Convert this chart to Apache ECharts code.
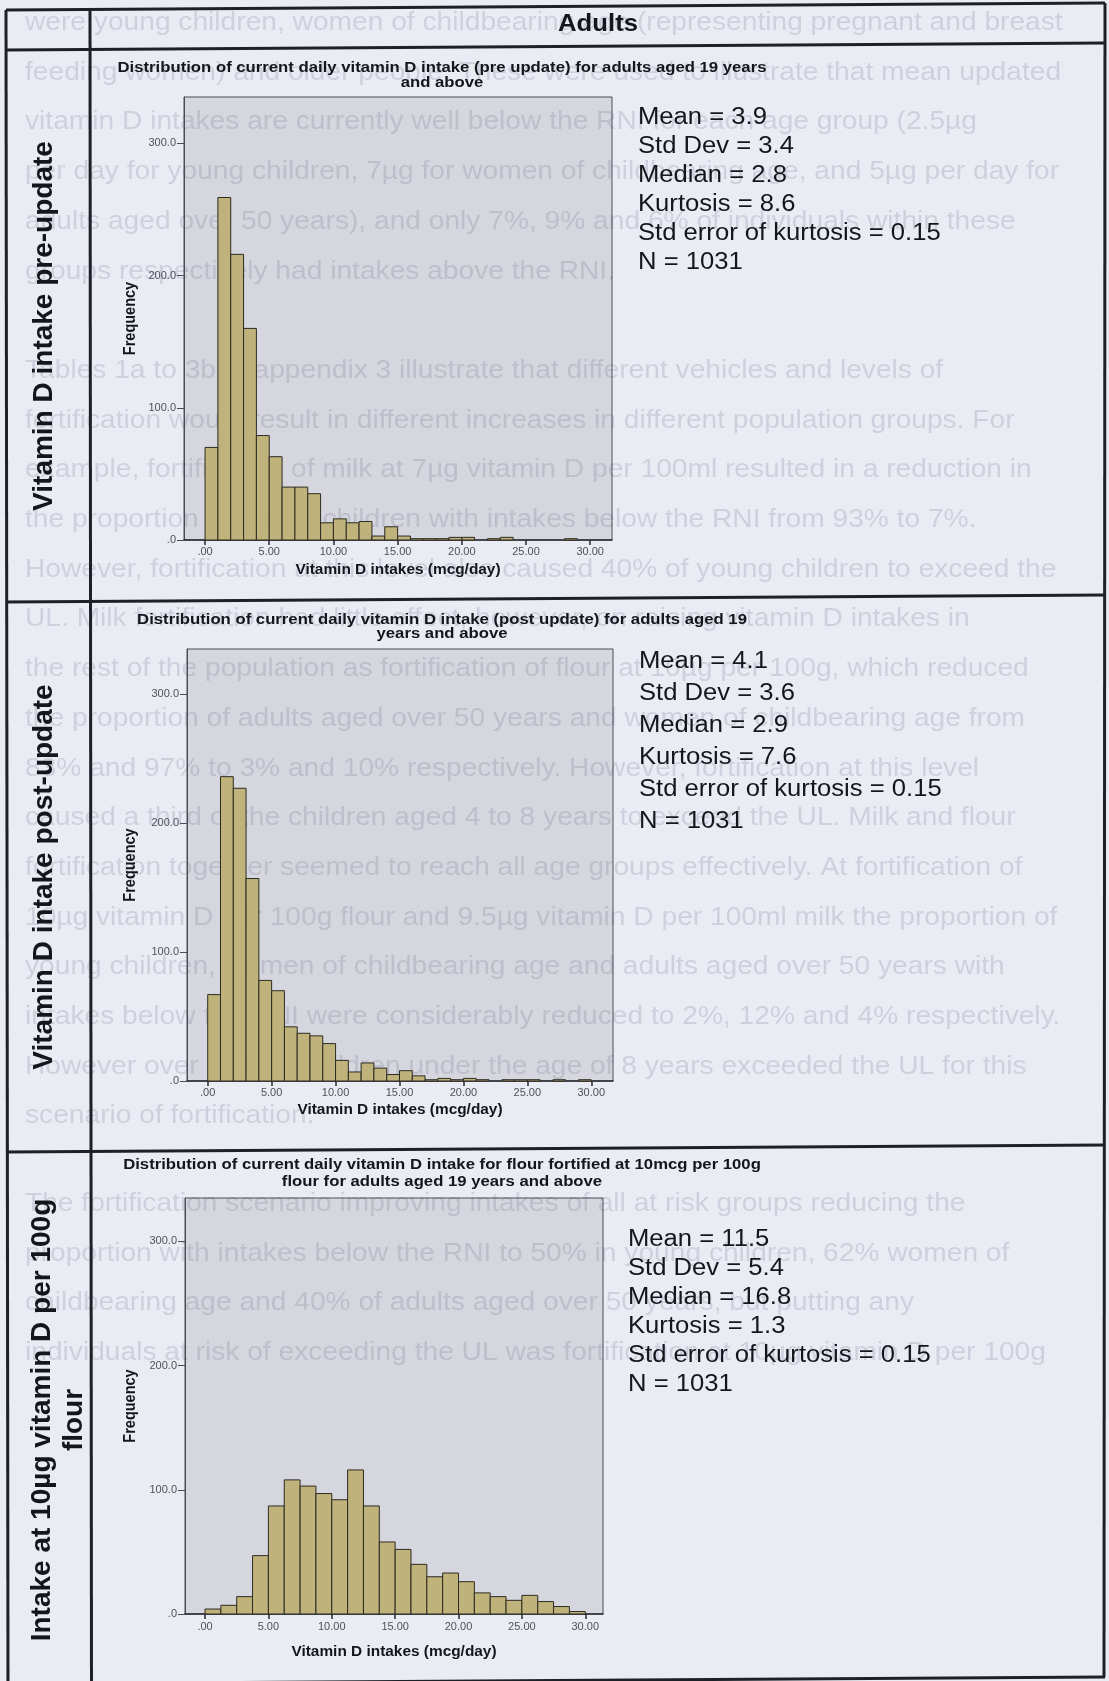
<!DOCTYPE html>
<html>
<head>
<meta charset="utf-8">
<script src="https://cdn.jsdelivr.net/npm/echarts@6/dist/echarts.min.js"></script>
<style>
  html, body { margin: 0; padding: 0; background: #eaecf4; }
  #chart { width: 1109px; height: 1681px; }
</style>
</head>
<body>
<div id="chart"></div>
<script>
// ---- data -------------------------------------------------------------
// Frequencies per bin (bin width 1 mcg/day for the first two, 1.25 for flour scenario)
const preUpdateCounts  = [70, 259, 216, 160, 79, 63, 40, 40, 35, 13, 16, 13, 14, 3, 10, 3, 1, 1, 1, 2, 2, 0, 1, 2, 0, 0, 0, 0, 1, 0];
const postUpdateCounts = [67, 236, 227, 157, 78, 70, 42, 37, 35, 29, 16, 7, 14, 10, 5, 8, 4, 1, 2, 1, 2, 1, 0, 1, 1, 1, 0, 1, 0, 1];
const flourCounts      = [4, 7, 14, 47, 87, 108, 103, 97, 92, 116, 87, 58, 52, 40, 30, 33, 26, 17, 14, 11, 15, 10, 6, 2];
const binWidths = [1, 1, 1.25];

const xTickValues = [0, 5, 10, 15, 20, 25, 30];
const yTickValues = [0, 100, 200, 300];

const headerText = 'Adults';
const rowLabels = [
  'Vitamin D intake pre-update',
  'Vitamin D intake post-update',
  'Intake at 10µg vitamin D per 100g\nflour'
];
const chartTitles = [
  ['Distribution of current daily vitamin D intake (pre update) for adults aged 19 years', 'and above'],
  ['Distribution of current daily vitamin D intake (post update) for adults aged 19', 'years and above'],
  ['Distribution of current daily vitamin D intake for flour fortified at 10mcg per 100g', 'flour for adults aged 19 years and above']
];
const statLines = [
  ['Mean = 3.9', 'Std Dev = 3.4', 'Median = 2.8', 'Kurtosis = 8.6', 'Std error of kurtosis = 0.15', 'N = 1031'],
  ['Mean = 4.1', 'Std Dev = 3.6', 'Median = 2.9', 'Kurtosis = 7.6', 'Std error of kurtosis = 0.15', 'N = 1031'],
  ['Mean = 11.5', 'Std Dev = 5.4', 'Median = 16.8', 'Kurtosis = 1.3', 'Std error of kurtosis = 0.15', 'N = 1031']
];
const xAxisName = 'Vitamin D intakes (mcg/day)';
const yAxisName = 'Frequency';

// Report text printed on the page underneath the table
const pageText = [
  'were young children, women of childbearing age (representing pregnant and breast',
  'feeding women) and older people. These were used to illustrate that mean updated',
  'vitamin D intakes are currently well below the RNI for each age group (2.5µg',
  'per day for young children, 7µg for women of childbearing age, and 5µg per day for',
  'adults aged over 50 years), and only 7%, 9% and 6% of individuals within these',
  'groups respectively had intakes above the RNI.',
  '',
  'Tables 1a to 3b in appendix 3 illustrate that different vehicles and levels of',
  'fortification would result in different increases in different population groups. For',
  'example, fortification of milk at 7µg vitamin D per 100ml resulted in a reduction in',
  'the proportion of young children with intakes below the RNI from 93% to 7%.',
  'However, fortification at this level also caused 40% of young children to exceed the',
  'UL. Milk fortification had little effect, however, on raising vitamin D intakes in',
  'the rest of the population as fortification of flour at 10µg per 100g, which reduced',
  'the proportion of adults aged over 50 years and women of childbearing age from',
  '83% and 97% to 3% and 10% respectively. However, fortification at this level',
  'caused a third of the children aged 4 to 8 years to exceed the UL. Milk and flour',
  'fortification together seemed to reach all age groups effectively. At fortification of',
  '10µg vitamin D per 100g flour and 9.5µg vitamin D per 100ml milk the proportion of',
  'young children, women of childbearing age and adults aged over 50 years with',
  'intakes below the RNI were considerably reduced to 2%, 12% and 4% respectively.',
  'However over 50% of children under the age of 8 years exceeded the UL for this',
  'scenario of fortification.',
  '',
  'The fortification scenario improving intakes of all at risk groups reducing the',
  'proportion with intakes below the RNI to 50% in young children, 62% women of',
  'childbearing age and 40% of adults aged over 50 years, but putting any',
  'individuals at risk of exceeding the UL was fortification at 10µg vitamin D per 100g'
];

// ---- layout -----------------------------------------------------------
const FONT = '"Liberation Sans", Arial, Helvetica, sans-serif';
const WIDE = 1.1; // printed lettering runs slightly wide
const countsByPanel = [preUpdateCounts, postUpdateCounts, flourCounts];

const panels = [
  { left: 184, top: 97,   right: 612, bottom: 540,  xMin: -1.64, xMax: 31.7, titleY: [68, 82.5],   statX: 638, statY: 118,  statGap: 29, nameY: 570,  labelMargin: 6 },
  { left: 187, top: 649,  right: 613, bottom: 1081, xMin: -1.62, xMax: 31.7, titleY: [620, 634],   statX: 639, statY: 662,  statGap: 32, nameY: 1110, labelMargin: 6 },
  { left: 185, top: 1198, right: 603, bottom: 1614, xMin: -1.58, xMax: 31.4, titleY: [1165, 1182], statX: 628, statY: 1240, statGap: 29, nameY: 1652, labelMargin: 7 }
];
const Y_MAX = 335;

const INK = '#15151c';
const LINE = '#1f1f27';

// ---- table rules (the sheet sits slightly askew) -------------------------
const tilt = 7;
const L = 6, R = 1105;
function hRule(yLeft, w) {
  return { type: 'line', z: 6, shape: { x1: L, y1: yLeft, x2: R, y2: yLeft - tilt }, style: { stroke: LINE, lineWidth: w } };
}
const rules = [
  hRule(10, 3), hRule(50, 3), hRule(602, 3), hRule(1152, 3), hRule(1684, 3),
  { type: 'line', z: 6, shape: { x1: 6, y1: 10, x2: 8, y2: 1684 }, style: { stroke: LINE, lineWidth: 3 } },
  { type: 'line', z: 6, shape: { x1: 90, y1: 9, x2: 91.5, y2: 1684 }, style: { stroke: LINE, lineWidth: 3 } },
  { type: 'line', z: 6, shape: { x1: 1105, y1: 3, x2: 1104, y2: 1677 }, style: { stroke: LINE, lineWidth: 3 } }
];

function hText(x, y, text, font, align) {
  return {
    type: 'text', x: x, y: y, scaleX: WIDE, z: 5,
    style: { text: text, font: font, fill: INK, align: align, verticalAlign: 'middle' }
  };
}

const texts = [];
// background report text
pageText.forEach((line, i) => {
  if (!line) return;
  const y = 23 + 49.7 * i - (i >= 24 ? 12 : 0);
  texts.push({
    type: 'text', x: 25, y: y, scaleX: WIDE, z: 1, silent: true,
    style: { text: line, font: '25.6px ' + FONT, fill: 'rgba(70,76,108,0.17)', align: 'left', verticalAlign: 'middle' }
  });
});
// header
texts.push(hText(598, 25, headerText, 'bold 23.4px ' + FONT, 'center'));
// row labels (rotated)
const rowCenters = [[44, 326], [44, 877], [58, 1420]];
rowLabels.forEach((t, i) => {
  texts.push({
    type: 'text', x: rowCenters[i][0], y: rowCenters[i][1], rotation: Math.PI / 2, z: 5,
    style: { text: t, font: 'bold 28px ' + FONT, fill: INK, align: 'center', verticalAlign: 'middle', lineHeight: 32 }
  });
});
// per-panel titles, stats, axis names
panels.forEach((p, i) => {
  const cx = 442;
  texts.push(hText(cx, p.titleY[0], chartTitles[i][0], 'bold 15.2px ' + FONT, 'center'));
  texts.push(hText(cx, p.titleY[1], chartTitles[i][1], 'bold 15.2px ' + FONT, 'center'));
  statLines[i].forEach((s, k) => {
    texts.push(hText(p.statX, p.statY + k * p.statGap, s, '23.3px ' + FONT, 'left'));
  });
  texts.push(hText((p.left + p.right) / 2, p.nameY, xAxisName, 'bold 14px ' + FONT, 'center'));
  texts.push({
    type: 'text', x: 131, y: (p.top + p.bottom) / 2, rotation: Math.PI / 2, scaleY: WIDE, z: 5,
    style: { text: yAxisName, font: 'bold 14.5px ' + FONT, fill: INK, align: 'center', verticalAlign: 'middle' }
  });
});

// ---- chart --------------------------------------------------------------
const grids = panels.map(p => ({
  left: p.left, top: p.top, width: p.right - p.left, height: p.bottom - p.top,
  show: true, backgroundColor: '#d5d6de', borderColor: '#4c4c55', borderWidth: 1, z: 0
}));

const xAxes = panels.map((p, i) => ({
  type: 'value', gridIndex: i, min: p.xMin, max: p.xMax,
  axisLine: { show: true, onZero: false, lineStyle: { color: '#2a2a30', width: 1.5 } },
  axisTick: { show: true, customValues: xTickValues, length: 5, lineStyle: { color: '#2a2a30', width: 1.5 } },
  axisLabel: {
    customValues: xTickValues, margin: p.labelMargin, fontSize: 11, color: '#505058', fontFamily: FONT,
    formatter: v => (v === 0 ? '.00' : v.toFixed(2))
  },
  splitLine: { show: false }
}));

const yAxes = panels.map((p, i) => ({
  type: 'value', gridIndex: i, min: 0, max: Y_MAX,
  axisLine: { show: true, onZero: false, lineStyle: { color: '#4c4c55', width: 1 } },
  axisTick: { show: true, customValues: yTickValues, length: 7, lineStyle: { color: '#4c4c55', width: 1 } },
  axisLabel: {
    customValues: yTickValues, margin: 8, fontSize: 11, color: '#505058', fontFamily: FONT,
    formatter: v => (v === 0 ? '.0' : v.toFixed(1))
  },
  splitLine: { show: false }
}));

const series = countsByPanel.map((counts, i) => {
  const w = binWidths[i];
  const data = counts.map((n, k) => [k * w, (k + 1) * w, n]).filter(d => d[2] > 0);
  return {
    type: 'custom', xAxisIndex: i, yAxisIndex: i, z: 3,
    data: data,
    encode: { x: [0, 1], y: 2 },
    renderItem: function (params, api) {
      const topLeft = api.coord([api.value(0), api.value(2)]);
      const bottomRight = api.coord([api.value(1), 0]);
      return {
        type: 'rect',
        shape: { x: topLeft[0], y: topLeft[1], width: bottomRight[0] - topLeft[0], height: bottomRight[1] - topLeft[1] },
        style: { fill: '#bfb27a', stroke: '#2c2b22', lineWidth: 1 }
      };
    }
  };
});

const chart = echarts.init(document.getElementById('chart'), null, { renderer: 'canvas' });
chart.setOption({
  backgroundColor: '#eaecf4',
  animation: false,
  grid: grids,
  xAxis: xAxes,
  yAxis: yAxes,
  series: series,
  graphic: { elements: rules.concat(texts) }
});
</script>
</body>
</html>
